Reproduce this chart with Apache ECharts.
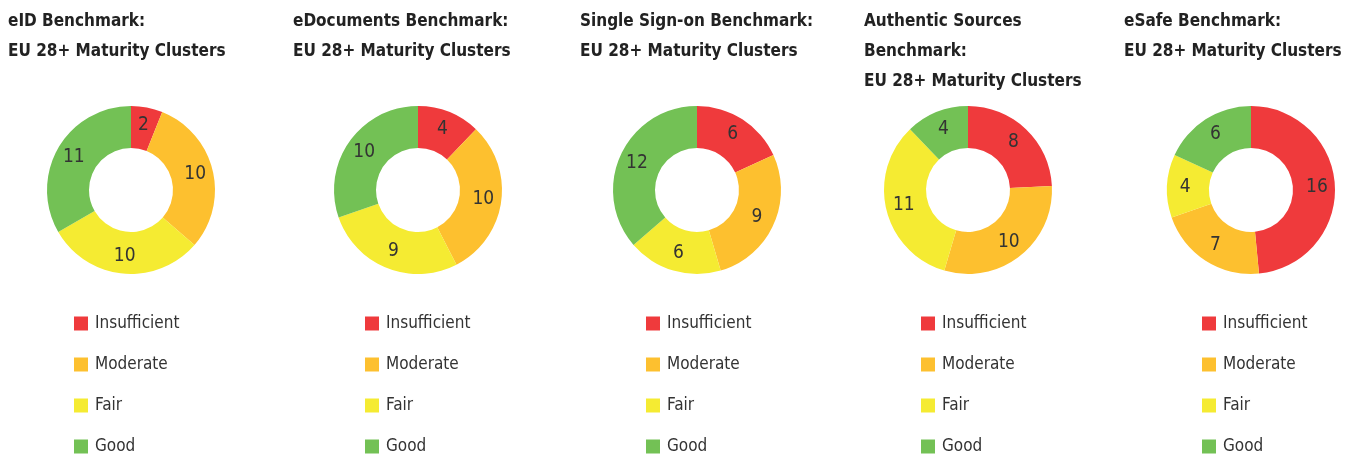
<!DOCTYPE html>
<html>
<head>
<meta charset="utf-8">
<script src="https://cdn.jsdelivr.net/npm/echarts@6/dist/echarts.min.js"></script>
<style>
  html, body { margin: 0; padding: 0; background: #fff; }
  #main { width: 1359px; height: 455px; }
</style>
</head>
<body>
<div id="main"></div>
<script>
var categories = ['Insufficient', 'Moderate', 'Fair', 'Good'];
var titles = [
    'eID Benchmark:\nEU 28+ Maturity Clusters',
    'eDocuments Benchmark:\nEU 28+ Maturity Clusters',
    'Single Sign-on Benchmark:\nEU 28+ Maturity Clusters',
    'Authentic Sources\nBenchmark:\nEU 28+ Maturity Clusters',
    'eSafe Benchmark:\nEU 28+ Maturity Clusters'
];
var eidValues = [2, 10, 10, 11];
var edocValues = [4, 10, 9, 10];
var ssoValues = [6, 9, 6, 12];
var authValues = [8, 10, 11, 4];
var esafeValues = [16, 7, 4, 6];
var allValues = [eidValues, edocValues, ssoValues, authValues, esafeValues];

var colors = ['#ef3a3c', '#fdc02f', '#f5eb32', '#73c155'];
var font = '"DejaVu Sans Condensed", "Liberation Sans Narrow", sans-serif';

// layout per panel
var titleLeft = [8, 293, 580, 864, 1124];
var pieX = [131, 418, 697, 968, 1251];
var legendLeft = [74, 365, 646, 921, 1202];

var myChart = echarts.init(document.getElementById('main'));

var option = {
    color: colors,
    animation: false,
    title: titles.map(function (t, i) {
        return {
            text: t,
            left: titleLeft[i],
            top: 7,
            padding: 0,
            textStyle: {
                fontFamily: font,
                fontSize: 17,
                fontWeight: 'bold',
                color: '#222',
                lineHeight: 30
            }
        };
    }),
    legend: legendLeft.map(function (l) {
        return {
            data: categories,
            orient: 'vertical',
            left: l,
            top: 315,
            height: 300,
            padding: 0,
            itemWidth: 14,
            itemHeight: 14,
            itemGap: 24,
            icon: 'rect',
            selectedMode: false,
            textStyle: {
                fontFamily: font,
                fontSize: 17,
                color: '#333',
                padding: [0, 0, 0, 2]
            }
        };
    }),
    series: allValues.map(function (vals, i) {
        return {
            type: 'pie',
            center: [pieX[i], 190],
            radius: [42, 84],
            startAngle: 90,
            clockwise: true,
            silent: true,
            label: {
                show: true,
                position: 'inside',
                formatter: '{c}',
                fontFamily: font,
                fontSize: 19,
                color: '#333'
            },
            labelLine: { show: false },
            data: vals.map(function (v, k) {
                return { name: categories[k], value: v };
            })
        };
    })
};

myChart.setOption(option);
</script>
</body>
</html>
